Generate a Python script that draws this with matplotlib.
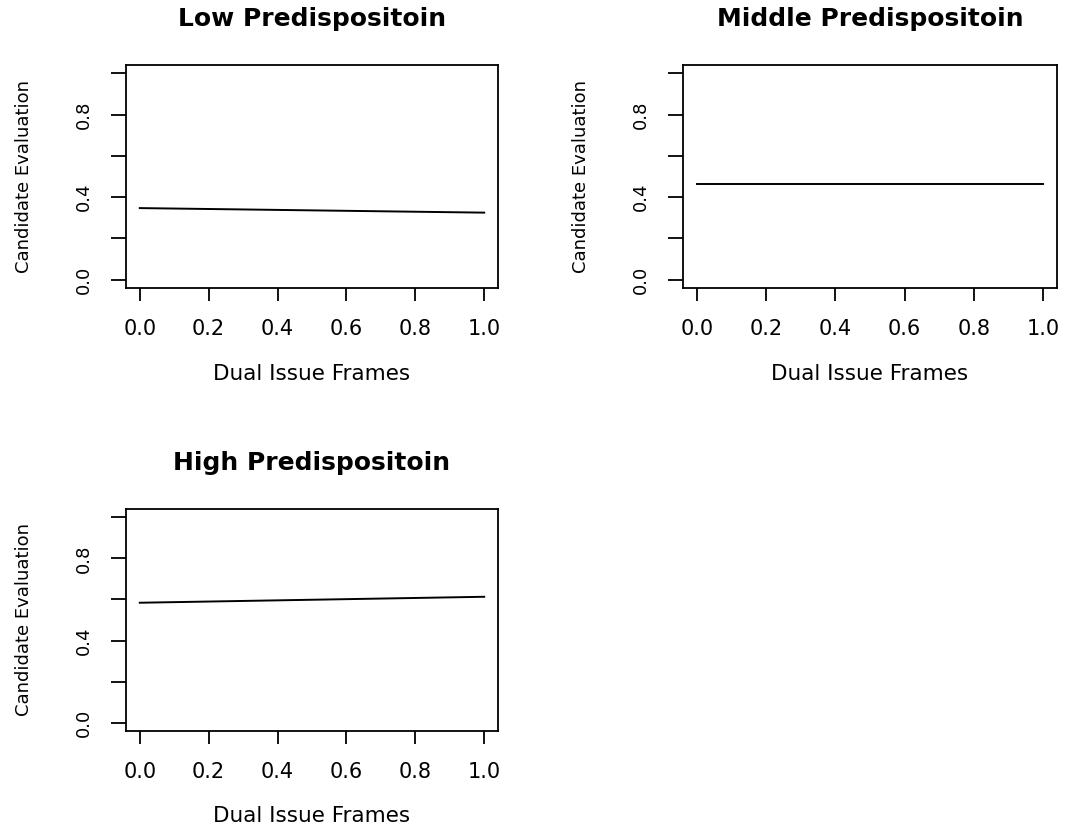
import numpy as np
import matplotlib
matplotlib.use("Agg")
import matplotlib.pyplot as plt

plt.rcParams['font.family'] = ['DejaVu Sans']

# Predicted candidate evaluation across dual issue frames
frames = [0.0, 1.0]
low_eval = [0.347, 0.325]
mid_eval = [0.463, 0.463]
high_eval = [0.584, 0.613]

titles = ["Low Predispositoin", "Middle Predispositoin", "High Predispositoin"]
series = [low_eval, mid_eval, high_eval]

W, H = 1065, 833
fig = plt.figure(figsize=(W / 100, H / 100), dpi=100)

# axes boxes in pixels: left, top, right, bottom
boxes = [(126, 65, 498, 288), (683, 65, 1057, 288), (126, 509, 498, 731)]

for (l, t, r, b), title, vals in zip(boxes, titles, series):
    ax = fig.add_axes([l / W, 1 - b / H, (r - l) / W, (b - t) / H])
    ax.plot(frames, vals, color="black", linewidth=1.4)
    ax.set_xlim(-0.04, 1.04)
    ax.set_ylim(-0.04, 1.04)

    ax.set_xticks([0.0, 0.2, 0.4, 0.6, 0.8, 1.0])
    ax.set_xticklabels(["0.0", "0.2", "0.4", "0.6", "0.8", "1.0"])
    ax.set_yticks([0.0, 0.2, 0.4, 0.6, 0.8, 1.0])
    ax.set_yticklabels(["0.0", "", "0.4", "", "0.8", ""], rotation=90, va="center")

    ax.tick_params(axis="x", length=9, width=1.3, pad=13, labelsize=15)
    ax.tick_params(axis="y", length=10.5, width=1.3, pad=13, labelsize=13)
    for s in ax.spines.values():
        s.set_linewidth(1.3)

    ax.set_title(title, fontsize=18, fontweight="bold", pad=28)
    ax.set_xlabel("Dual Issue Frames", fontsize=15.5)
    ax.set_ylabel("Candidate Evaluation", fontsize=13)
    ax.xaxis.set_label_coords(0.5, -0.34)
    ax.yaxis.set_label_coords(-0.25, 0.5)

fig.savefig("out.png", dpi=100, facecolor="white")
